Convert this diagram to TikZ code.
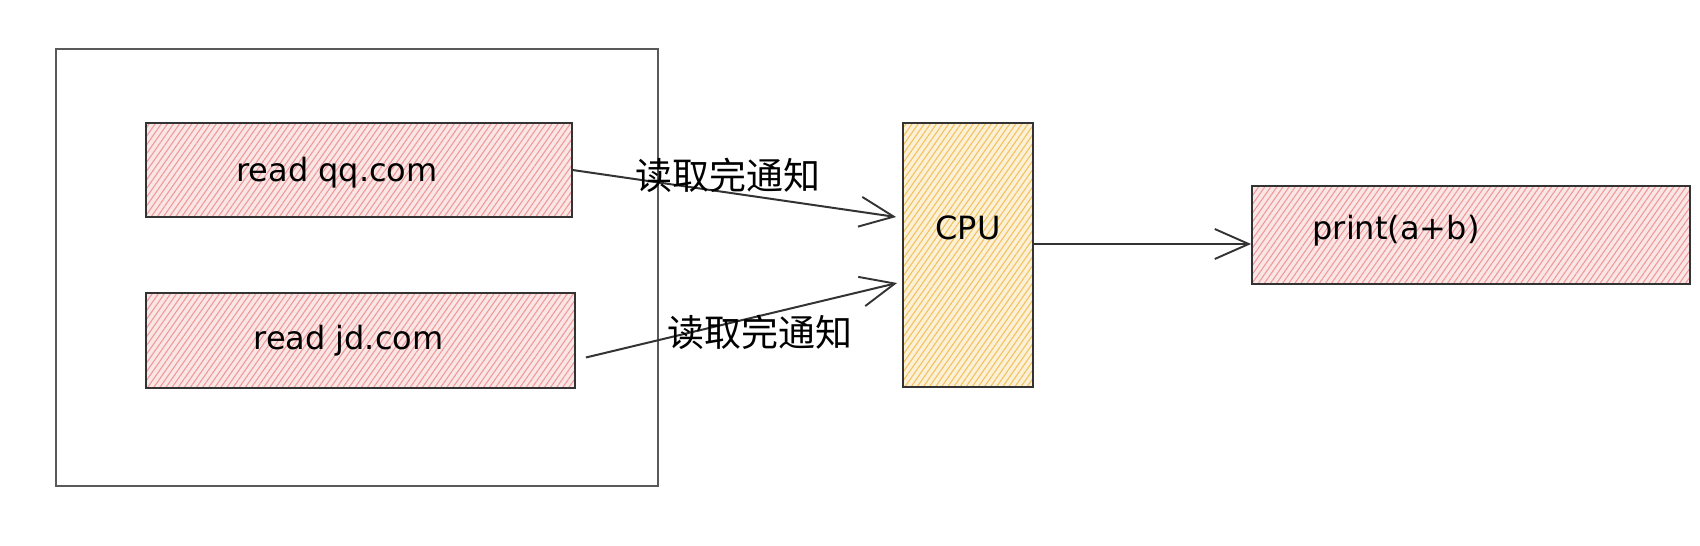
\documentclass[tikz,border=0pt]{standalone}
\usepackage{fontspec}
\setmainfont{DejaVu Sans}
\newfontfamily\cjk{Noto Sans CJK SC}
\usepackage{xcolor}
\usetikzlibrary{arrows.meta, patterns.meta, positioning}

\definecolor{hatchred}{HTML}{EE9A9A}
\definecolor{hatchyellow}{HTML}{F2C25E}

\begin{document}
\begin{tikzpicture}[
    x=1pt, y=-1pt,
    outer/.style={rectangle, draw=black!65, line width=1.8pt, minimum width=602pt, minimum height=437pt, inner sep=0pt},
    hatchbox/.style={rectangle, draw=black!80, line width=1.8pt, inner sep=0pt,
        preaction={fill=#1!25}, pattern={Lines[angle=55, distance=5pt, line width=1.1pt]}, pattern color=#1},
    boxtext/.style={font=\fontsize{32}{36}\selectfont},
    note/.style={font=\cjk\fontsize{37}{40}\selectfont, inner sep=0pt},
    arrow/.style={-{Straight Barb[length=34pt, width=30pt, line width=1.9pt]}, line width=2pt, draw=black!80}
]
\useasboundingbox (0,0) rectangle (1700,546);

\node[outer] (host) at (357,267.5) {};

\node[hatchbox=hatchred, minimum width=426pt, minimum height=94pt,
      label={[boxtext, xshift=-22pt, yshift=-3pt]center:read qq.com}] (qq) at (359,170) {};
\node[hatchbox=hatchred, minimum width=429pt, minimum height=95pt,
      label={[boxtext, xshift=-12pt]center:read jd.com}] (jd) at (360.5,340.5) {};

\node[hatchbox=hatchyellow, minimum width=130pt, minimum height=264pt,
      label={[boxtext, yshift=27pt]center:CPU}] (cpu) at (968,255) {};
\node[hatchbox=hatchred, minimum width=438pt, minimum height=98pt,
      label={[boxtext, xshift=-75pt, yshift=4pt]center:print(a+b)}] (print) at (1471,235) {};

\draw[arrow] (qq.east) -- node[note, pos=0.48, yshift=17pt] {读取完通知} ([xshift=-6pt, yshift=38pt]cpu.west);
\draw[arrow] ([xshift=10pt, yshift=-17pt]jd.east) -- node[note, pos=0.56, yshift=-17pt] {读取完通知} ([xshift=-5pt, yshift=-28pt]cpu.west);
\draw[arrow] ([yshift=11pt]cpu.east) -- ([yshift=-9pt]print.west);

\end{tikzpicture}
\end{document}
